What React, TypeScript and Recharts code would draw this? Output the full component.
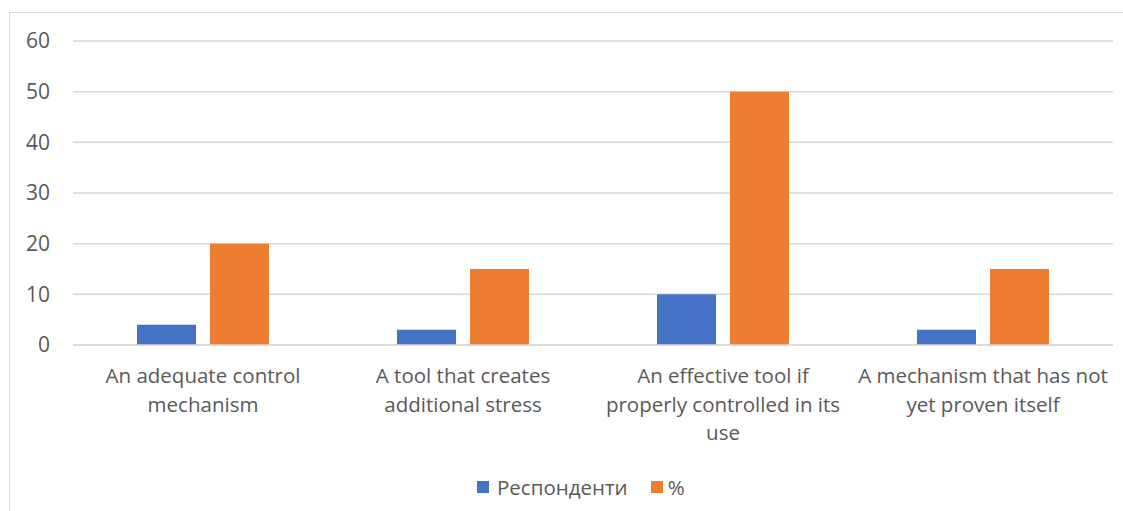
import { BarChart, Bar, XAxis, YAxis, CartesianGrid, Legend } from 'recharts';

const categories = [
  'An adequate control\nmechanism',
  'A tool that creates\nadditional stress',
  'An effective tool if\nproperly controlled in its\nuse',
  'A mechanism that has not\nyet proven itself',
];
const respondents = [4, 3, 10, 3];
const percents = [20, 15, 50, 15];
const yTicks = [0, 10, 20, 30, 40, 50, 60];

const seriesNames = ['Респонденти', '%'];
const colors = ['#4472C4', '#ED7D31'];

const data = categories.map((name, i) => ({
  name,
  resp: respondents[i],
  pct: percents[i],
}));

const font = '"Open Sans", "Noto Sans", sans-serif';
const textColor = '#595959';

function CategoryTick({ x, y, payload }: any) {
  const lines = String(payload.value).split('\n');
  return (
    <text x={x} y={y} textAnchor="middle" fill={textColor} fontSize={20.5} fontFamily={font}>
      {lines.map((line, i) => (
        <tspan key={i} x={x} dy={i === 0 ? 32 : 28.5}>
          {line}
        </tspan>
      ))}
    </text>
  );
}

function LegendContent() {
  return (
    <div
      style={{
        display: 'flex',
        alignItems: 'center',
        fontFamily: font,
        fontSize: 20.5,
        color: textColor,
        whiteSpace: 'nowrap',
      }}
    >
      {seriesNames.map((n, i) => (
        <div key={n} style={{ display: 'flex', alignItems: 'center', marginRight: i === 0 ? 23 : 0 }}>
          <span style={{ width: 12, height: 12, background: colors[i], display: 'inline-block', marginRight: i === 0 ? 8 : 5 }} />
          <span>{n}</span>
        </div>
      ))}
    </div>
  );
}

export default function App() {
  return (
    <div style={{ position: 'absolute', left: 0, top: 0, width: 1123, height: 511, background: '#fff', overflow: 'hidden' }}>
      <div
        style={{
          position: 'absolute',
          left: 9,
          top: 12,
          width: 1200,
          height: 600,
          borderLeft: '1.5px solid #d9d9d9',
          borderTop: '1.5px solid #d9d9d9',
        }}
      />
      <BarChart
        width={1123}
        height={511}
        data={data}
        margin={{ top: 41, right: 10, left: 0, bottom: 46 }}
        barSize={59}
        barGap={14}
      >
        <CartesianGrid vertical={false} stroke="#d9d9d9" strokeWidth={1.5} />
        <XAxis
          dataKey="name"
          height={120}
          axisLine={{ stroke: '#d9d9d9', strokeWidth: 1.5 }}
          tickLine={false}
          tickMargin={0}
          interval={0}
          tick={(props: any) => <CategoryTick {...props} />}
        />
        <YAxis
          width={73}
          domain={[0, 60]}
          ticks={yTicks}
          axisLine={false}
          tickLine={false}
          tickMargin={17}
          tick={{ fill: textColor, fontSize: 21, fontFamily: font }}
        />
        <Legend
          layout="horizontal"
          verticalAlign="middle"
          align="center"
          content={() => <LegendContent />}
          wrapperStyle={{ top: 473, left: 477, width: 'auto' }}
        />
        <Bar dataKey="resp" name={seriesNames[0]} fill={colors[0]} isAnimationActive={false} />
        <Bar dataKey="pct" name={seriesNames[1]} fill={colors[1]} isAnimationActive={false} />
      </BarChart>
    </div>
  );
}
